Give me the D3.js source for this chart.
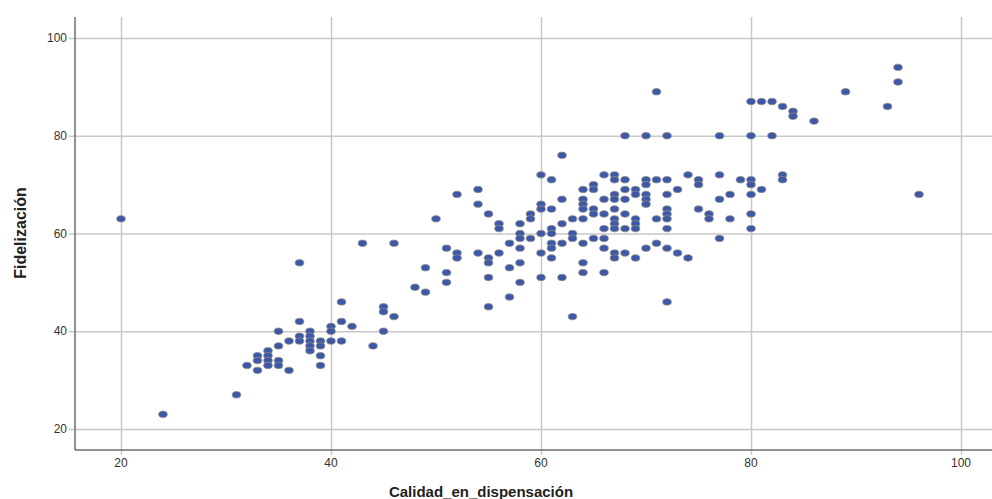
<!DOCTYPE html>
<html>
<head>
<meta charset="utf-8">
<script src="https://cdn.jsdelivr.net/npm/d3@7"></script>
<style>
  body { margin: 0; background: #fff; }
  svg { display: block; font-family: "Liberation Sans", Arial, sans-serif; }
</style>
</head>
<body>
<svg></svg>
<script>
const size = {w: 992, h: 499};
const plot = {l: 75, r: 992, t: 17, b: 450};

// Calidad_en_dispensación (x) and Fidelización (y), one entry per respondent
const calidad = [
  20, 24, 31, 32,
  33, 33, 33, 34, 34, 34, 34, 35, 35, 35, 35, 36, 36,
  37, 37, 37, 37, 38, 38, 38, 38, 38, 39, 39, 39, 39,
  40, 40, 40, 41, 41, 41, 42, 43, 44, 45, 45, 45, 46, 46,
  48, 49, 49, 50, 51, 51, 51, 52, 52, 52, 54, 54, 54,
  55, 55, 55, 55, 55, 56, 56, 56, 57, 57, 57,
  58, 58, 58, 58, 58, 58, 59, 59, 59,
  60, 60, 60, 60, 60, 60, 61, 61, 61, 61, 61, 61, 61,
  62, 62, 62, 62, 62, 63, 63, 63, 63,
  64, 64, 64, 64, 64, 64, 64, 64, 65, 65, 65, 65, 65,
  66, 66, 66, 66, 66, 66, 66,
  67, 67, 67, 67, 67, 67, 67, 67, 67, 67,
  68, 68, 68, 68, 68, 68, 68, 69, 69, 69, 69, 69, 69,
  70, 70, 70, 70, 70, 70, 70, 71, 71, 71, 71,
  72, 72, 72, 72, 72, 72, 72, 72, 72, 73, 73, 74, 74,
  75, 75, 75, 76, 76, 77, 77, 77, 77, 78, 78, 79,
  80, 80, 80, 80, 80, 80, 80, 81, 81, 82, 82, 83, 83, 83,
  84, 84, 86, 89, 93, 94, 94, 96
];
const fidelizacion = [
  63, 23, 27, 33,
  35, 34, 32, 36, 35, 34, 33, 40, 37, 34, 33, 38, 32,
  54, 42, 39, 38, 40, 39, 38, 37, 36, 38, 37, 35, 33,
  41, 40, 38, 46, 42, 38, 41, 58, 37, 45, 44, 40, 58, 43,
  49, 53, 48, 63, 57, 52, 50, 68, 56, 55, 69, 66, 56,
  64, 55, 54, 51, 45, 62, 61, 56, 58, 53, 47,
  62, 60, 59, 57, 54, 50, 64, 63, 59,
  72, 66, 65, 60, 56, 51, 71, 65, 61, 60, 58, 57, 55,
  76, 67, 62, 58, 51, 63, 60, 59, 43,
  69, 67, 66, 65, 63, 58, 54, 52, 70, 69, 65, 64, 59,
  72, 67, 64, 61, 59, 57, 52,
  72, 71, 68, 67, 65, 63, 62, 61, 56, 55,
  80, 71, 69, 67, 64, 61, 56, 69, 68, 63, 62, 61, 55,
  80, 71, 70, 68, 67, 66, 57, 89, 71, 63, 58,
  80, 71, 68, 65, 64, 63, 61, 57, 46, 69, 56, 72, 55,
  71, 70, 65, 64, 63, 80, 72, 67, 59, 68, 63, 71,
  87, 80, 71, 70, 68, 64, 61, 87, 69, 87, 80, 86, 72, 71,
  85, 84, 83, 89, 86, 94, 91, 68
];
const xTicks = [20, 40, 60, 80, 100];
const yTicks = [20, 40, 60, 80, 100];

const svg = d3.select('svg')
    .attr('width', size.w)
    .attr('height', size.h);

const x = d3.scaleLinear()
    .domain([15.62, 102.95])
    .range([plot.l, plot.r]);

const y = d3.scaleLinear()
    .domain([15.7, 104.3])
    .range([plot.b, plot.t]);

// grid lines, pushed out past the axes a little like tick marks
svg.append('g')
    .attr('transform', `translate(0,${plot.b})`)
    .call(d3.axisBottom(x).tickValues(xTicks).tickSize(-(plot.b - plot.t)).tickSizeOuter(0).tickFormat(''))
    .call(g => g.select('.domain').remove())
    .call(g => g.selectAll('line').attr('stroke', '#c8c8c8').attr('stroke-width', 1.5).attr('y1', 5));

svg.append('g')
    .attr('transform', `translate(${plot.l},0)`)
    .call(d3.axisLeft(y).tickValues(yTicks).tickSize(-(plot.r - plot.l)).tickSizeOuter(0).tickFormat(''))
    .call(g => g.select('.domain').remove())
    .call(g => g.selectAll('line').attr('stroke', '#c8c8c8').attr('stroke-width', 1.5).attr('x1', -6));

// axis lines
svg.append('line')
    .attr('x1', plot.l).attr('x2', plot.l)
    .attr('y1', plot.t).attr('y2', plot.b)
    .attr('stroke', '#6e6e6e').attr('stroke-width', 1.5);

svg.append('line')
    .attr('x1', plot.l).attr('x2', plot.r)
    .attr('y1', plot.b).attr('y2', plot.b)
    .attr('stroke', '#6e6e6e').attr('stroke-width', 1.5);

// tick labels
svg.append('g').selectAll('text')
    .data(xTicks)
    .join('text')
    .attr('x', d => x(d))
    .attr('y', 467)
    .attr('text-anchor', 'middle')
    .attr('font-size', 12)
    .attr('fill', '#333')
    .text(d => d);

svg.append('g').selectAll('text')
    .data(yTicks)
    .join('text')
    .attr('x', 67)
    .attr('y', d => y(d) + 4)
    .attr('text-anchor', 'end')
    .attr('font-size', 12)
    .attr('fill', '#333')
    .text(d => d);

// axis titles
svg.append('text')
    .attr('x', 481)
    .attr('y', 497)
    .attr('text-anchor', 'middle')
    .attr('font-size', 15)
    .attr('font-weight', 'bold')
    .attr('fill', '#222')
    .text('Calidad_en_dispensación');

svg.append('text')
    .attr('transform', 'translate(26,233) rotate(-90)')
    .attr('text-anchor', 'middle')
    .attr('font-size', 16)
    .attr('font-weight', 'bold')
    .attr('fill', '#222')
    .text('Fidelización');

// points
svg.append('g')
    .selectAll('ellipse')
    .data(d3.range(calidad.length))
    .join('ellipse')
    .attr('cx', i => x(calidad[i]))
    .attr('cy', i => y(fidelizacion[i]))
    .attr('rx', 4.3)
    .attr('ry', 3.2)
    .attr('fill', '#3d58a6')
    .attr('stroke', '#8a8a8a')
    .attr('stroke-width', 0.8);
</script>
</body>
</html>
